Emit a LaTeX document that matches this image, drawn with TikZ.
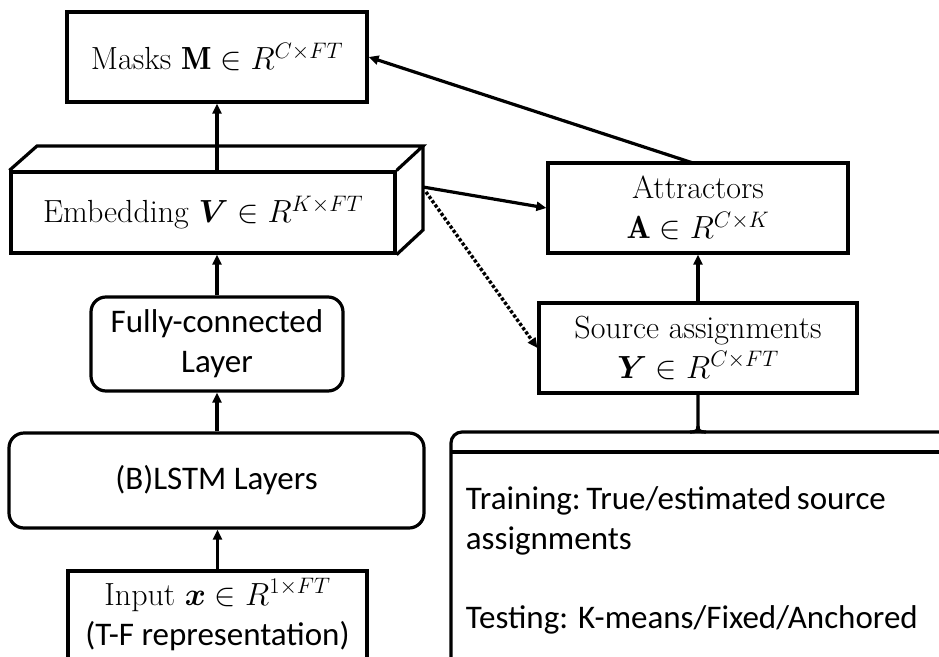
\RequirePackage{fix-cm}
\documentclass[tikz,border=0pt]{standalone}
\usepackage{fontspec}
\usepackage{bm}
\setsansfont{Carlito}
\usetikzlibrary{arrows.meta}
\begin{document}
\begin{tikzpicture}[x=1pt,y=-1pt,
  line width=3.2pt,
  serif/.style={font=\fontsize{32}{40}\selectfont},
  sans/.style={font=\sffamily\fontsize{33}{40}\selectfont},
  box/.style={draw, line width=3.2pt, inner sep=0pt, align=center},
  rbox/.style={box, rounded corners=15pt},
  arr/.style={-{Triangle[length=10pt,width=9pt]}, line width=3.2pt},
  dotarr/.style={arr, dotted, line width=3.4pt}
]
\clip (0,0) rectangle (939,656);
\fill[white] (0,0) rectangle (939,656);

% Masks
\node[box, serif, minimum width=300pt, minimum height=90pt] (masks) at (217,57)
  {Masks $\mathbf{M}\in R^{C\times FT}$};

% Embedding 3D box
\node[box, serif, minimum width=384pt, minimum height=81pt] (emb) at (203,212.5)
  {Embedding $\bm{V}\in R^{K\times FT}$};
\draw[line join=miter] (emb.north west) -- (37,146) -- (423,146) -- (emb.north east);
\draw[line join=miter] (423,146) -- (423,230) -- (emb.south east);
\coordinate (embR) at (423,187);
\coordinate (embRd) at (426,192);

% Fully connected
\node[rbox, sans, minimum width=252pt, minimum height=94pt] (fc) at (217,344)
  {Fully-connected\\Layer};

% LSTM
\node[rbox, sans, minimum width=415pt, minimum height=95pt] (lstm) at (216.5,480.5)
  {(B)LSTM Layers};

% Input
\node[box, minimum width=299pt, minimum height=100pt] (inp) at (217.5,621) {};
\node[serif] (inpt1) at (217.5,595) {Input $\bm{x}\in R^{1\times FT}$};
\node[sans] (inpt2) at (217.5,636) {(T-F representation)};

% Attractors
\node[box, serif, minimum width=300pt, minimum height=90pt] (att) at (698,208)
  {Attractors\\$\mathbf{A}\in R^{C\times K}$};

% Source assignments
\node[box, serif, minimum width=318pt, minimum height=90pt] (sa) at (698,348)
  {Source assignments\\$\bm{Y}\in R^{C\times FT}$};

% Bottom-right panel
\draw (960,432) -- (462,432) arc[start angle=90,end angle=180,radius=11pt] -- (451,680);
\draw (451,452) -- (960,452);
\draw (sa.south) -- (698,426) .. controls (698,431) and (696,432) .. (690,432);
\draw (698,426) .. controls (698,431) and (700,432) .. (706,432);
\node[sans, anchor=base west] (tr1) at (461,509) {Training:\,True/estimated\,source};
\node[sans, anchor=base west] (tr2) at (461,549) {assignments};
\node[sans, anchor=base west] (te1) at (461,628) {Testing: K-means/Fixed/Anchored};

% Connectors
\draw[arr] (emb.north -| masks.south) -- (masks.south);
\draw[arr] (fc.north) -- (fc.north |- emb.south);
\draw[arr] (lstm.north -| fc.south) -- (fc.south);
\draw[arr] (inp.north) -- (inp.north |- lstm.south);
\draw[arr] (sa.north -| att.south) -- (att.south);
\draw[arr] (693,163) -- (masks.east);
\draw[arr] (embR) -- (att.west);
\draw[dotarr] (embRd) -- (sa.west);
\end{tikzpicture}
\end{document}
